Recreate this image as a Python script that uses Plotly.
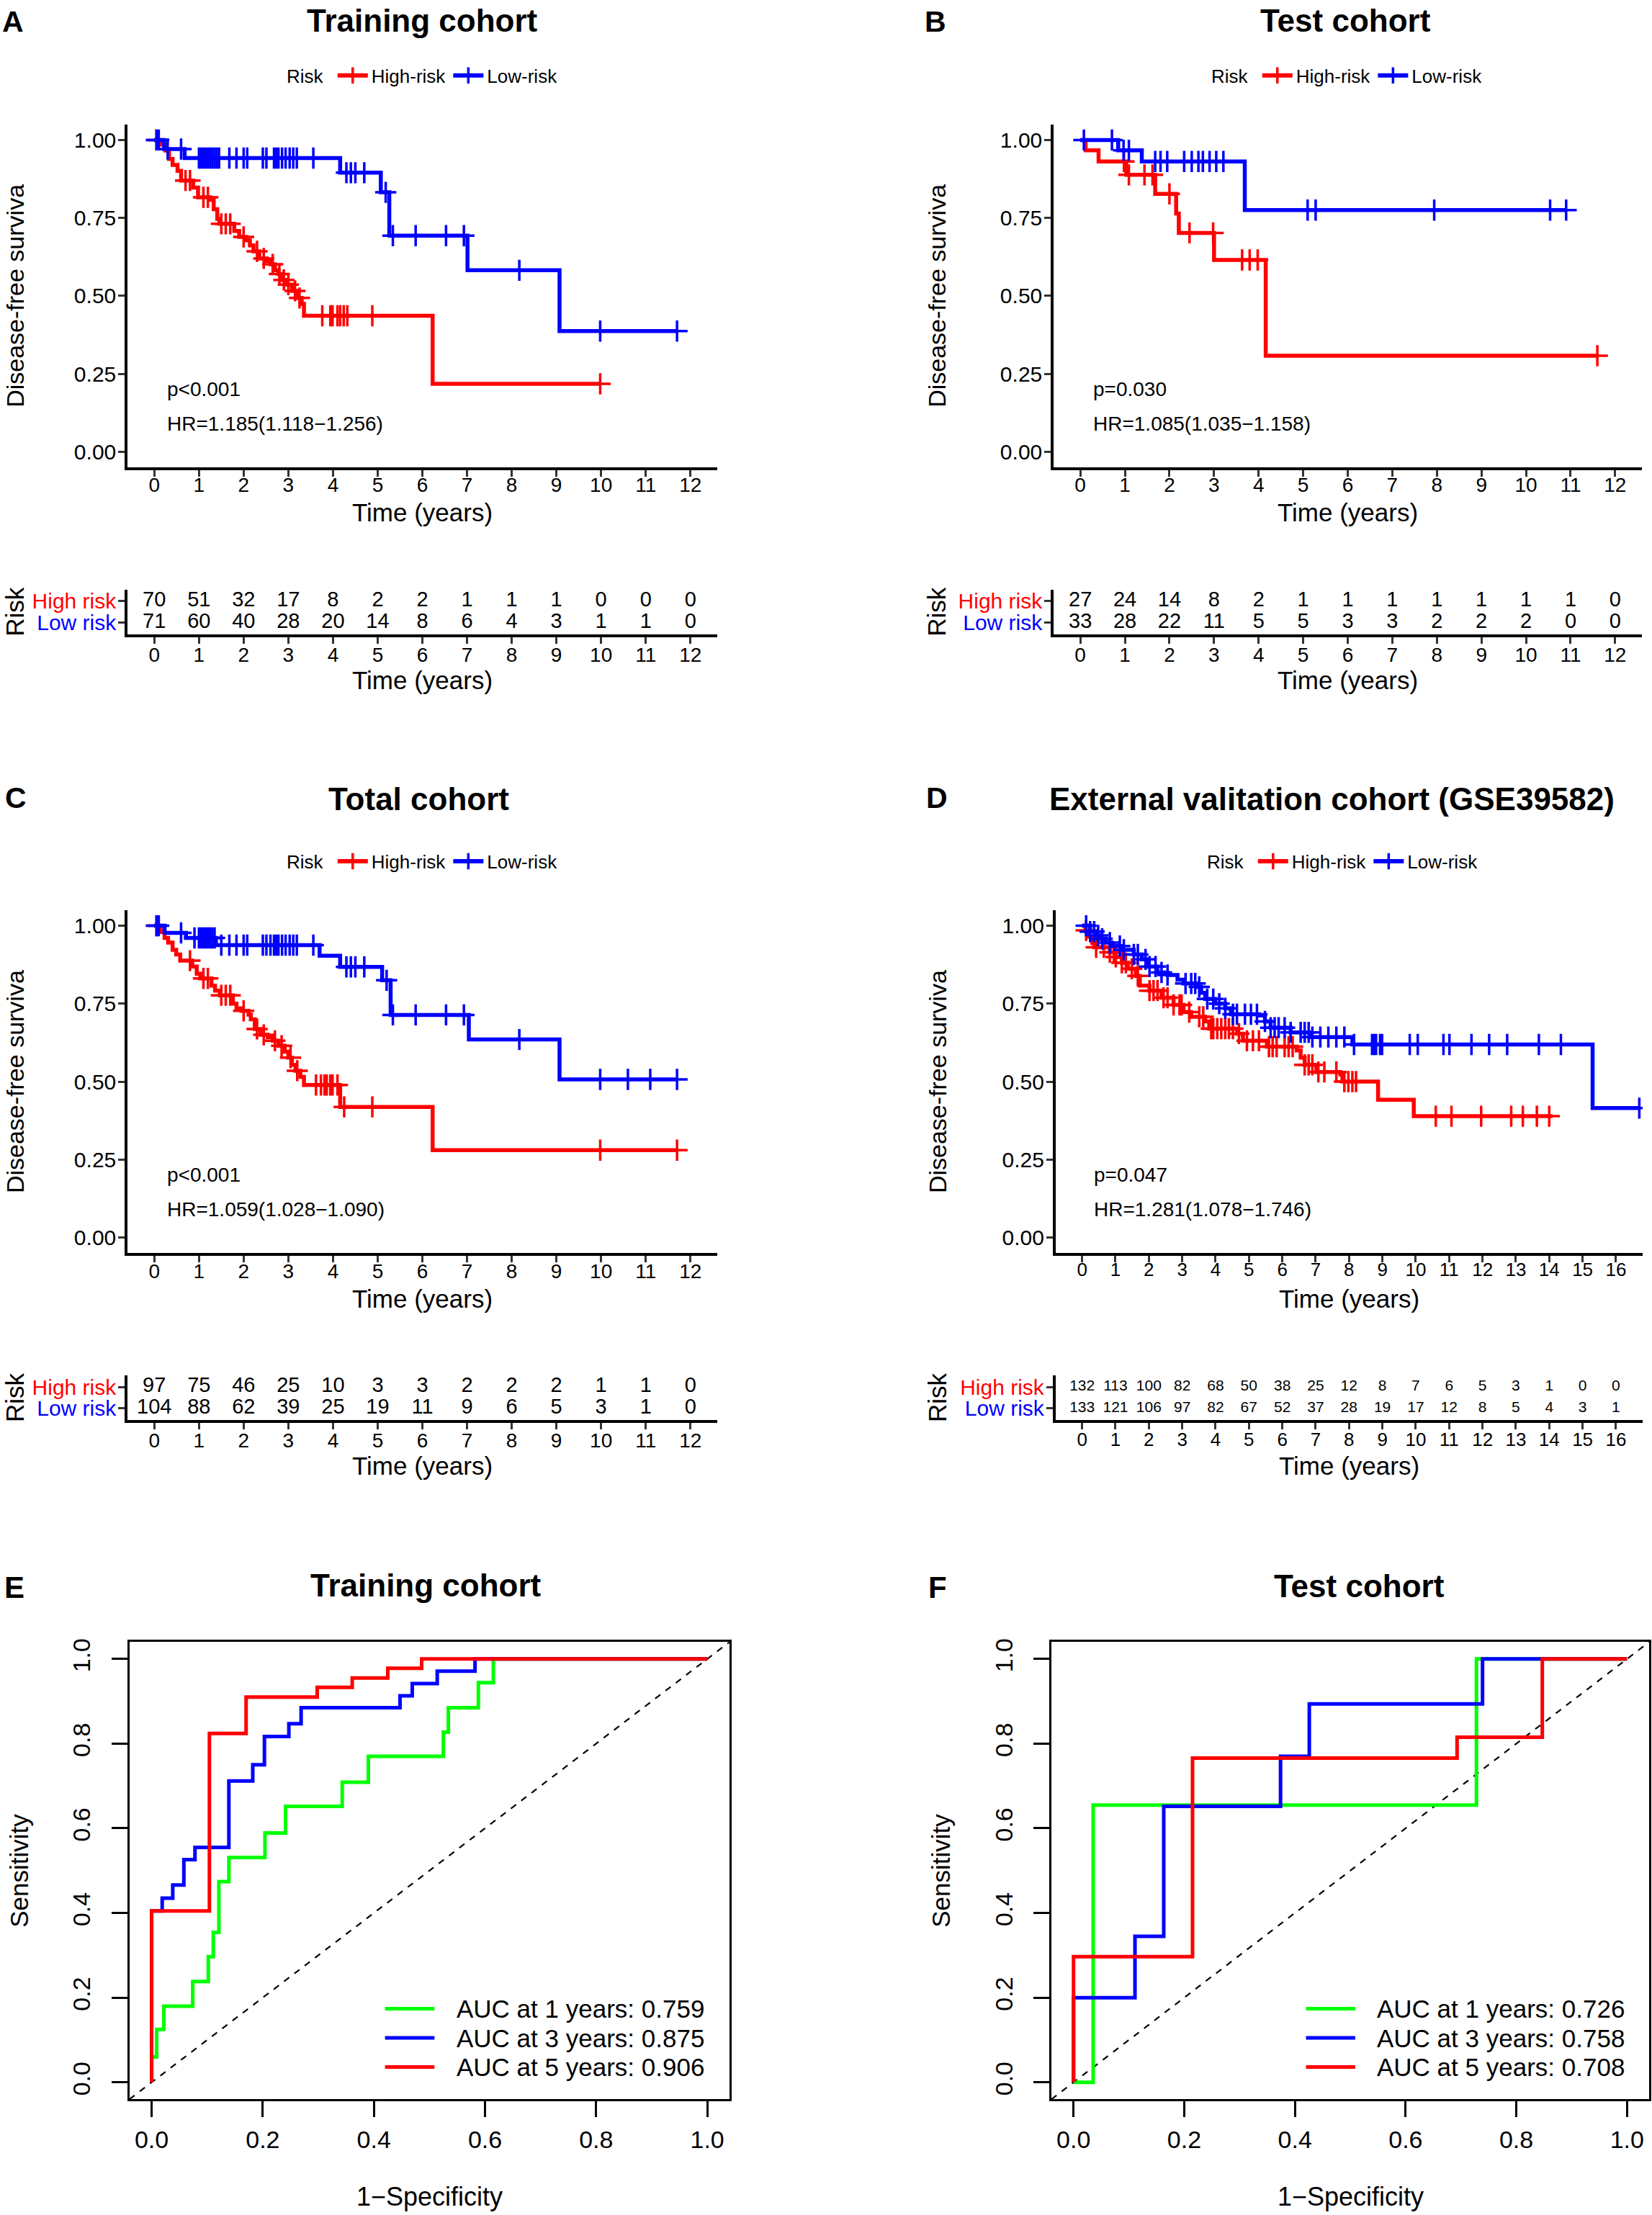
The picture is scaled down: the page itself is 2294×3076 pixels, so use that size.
import plotly.graph_objects as go

W, H = 2294, 3076
FONT = "Liberation Sans, Arial, Helvetica, sans-serif"
RED, BLUE, GREEN = "#FF0000", "#0000FF", "#00FF00"

# ---------------- Kaplan-Meier data (event times / survival after event) ----------------
# Panel A : Training cohort
a_high_t = [0.17, 0.25, 0.33, 0.41, 0.52, 0.60, 0.87, 0.98, 1.25, 1.33, 1.41, 1.46, 1.79, 1.90, 2.06,
            2.14, 2.22, 2.35, 2.52, 2.60, 2.70, 2.78, 2.86, 2.97, 3.08, 3.19, 3.30, 3.35, 6.23]
a_high_s = [0.985, 0.966, 0.939, 0.920, 0.901, 0.870, 0.847, 0.816, 0.808, 0.778, 0.747, 0.731, 0.708,
            0.689, 0.678, 0.662, 0.643, 0.620, 0.612, 0.601, 0.582, 0.570, 0.551, 0.536, 0.516, 0.493,
            0.474, 0.436, 0.218]
a_high_end = 10.0
a_high_cens = [0.05, 0.7, 0.8, 1.1, 1.2, 1.5, 1.6, 1.7, 2.0, 2.3, 2.45, 2.65, 2.8, 2.9, 3.0, 3.15, 3.25,
               3.76, 3.94, 3.99, 4.1, 4.16, 4.24, 4.32, 4.88, 9.98]
a_low_t = [0.22, 0.68, 4.16, 5.07, 5.26, 7.01, 9.07]
a_low_s = [0.971, 0.942, 0.895, 0.832, 0.693, 0.582, 0.387]
a_low_end = 11.7
a_low_cens = [0.05, 0.1, 0.3, 0.6, 1.0, 1.05, 1.1, 1.15, 1.2, 1.25, 1.3, 1.35, 1.4, 1.45, 1.68, 1.84, 2.0,
              2.08, 2.43, 2.51, 2.68, 2.73, 2.78, 2.86, 2.94, 3.03, 3.11, 3.19, 3.56, 4.3, 4.4, 4.5, 4.7,
              5.18, 5.34, 5.85, 6.53, 6.93, 8.17, 9.98, 11.7]

# Panel B : Test cohort
b_high_t = [0.12, 0.41, 1.03, 1.68, 2.15, 2.21, 3.0, 4.16]
b_high_s = [0.967, 0.931, 0.888, 0.827, 0.764, 0.702, 0.615, 0.308]
b_high_end = 11.6
b_high_cens = [0.98, 1.09, 1.44, 1.62, 2.0, 2.45, 2.98, 3.63, 3.8, 3.98, 11.6]
b_low_t = [0.85, 1.38, 3.69]
b_low_s = [0.967, 0.931, 0.775]
b_low_end = 10.9
b_low_cens = [0.08, 0.71, 0.97, 1.09, 1.68, 1.8, 1.95, 2.33, 2.5, 2.65, 2.75, 2.9, 3.05, 3.21, 5.1, 5.28,
              7.94, 10.54, 10.9]

# Panel C : Total cohort
c_high_t = [0.14, 0.23, 0.31, 0.41, 0.49, 0.58, 0.85, 0.95, 1.03, 1.28, 1.36, 1.47, 1.76, 1.84, 1.95,
            2.11, 2.16, 2.25, 2.38, 2.54, 2.65, 2.78, 2.92, 3.0, 3.08, 3.16, 3.27, 3.35, 4.16, 6.23]
c_high_s = [0.98, 0.961, 0.946, 0.923, 0.908, 0.888, 0.869, 0.846, 0.831, 0.808, 0.792, 0.777, 0.75,
            0.735, 0.727, 0.715, 0.70, 0.669, 0.65, 0.643, 0.631, 0.615, 0.596, 0.577, 0.554, 0.535,
            0.515, 0.489, 0.419, 0.28]
c_high_end = 11.7
c_high_cens = [0.05, 0.8, 1.1, 1.2, 1.5, 1.6, 1.7, 2.0, 2.3, 2.45, 2.7, 2.85, 3.05, 3.2, 3.62, 3.73, 3.81,
               3.86, 3.94, 3.99, 4.1, 4.25, 4.88, 9.98, 11.7]
c_low_t = [0.23, 0.71, 1.38, 3.7, 4.16, 5.1, 5.29, 7.04, 9.07]
c_low_s = [0.977, 0.961, 0.938, 0.904, 0.868, 0.825, 0.714, 0.635, 0.507]
c_low_end = 11.7
c_low_cens = [0.05, 0.1, 0.6, 0.9, 1.0, 1.05, 1.1, 1.15, 1.2, 1.25, 1.3, 1.35, 1.5, 1.68, 1.84, 2.0, 2.08,
              2.43, 2.51, 2.6, 2.68, 2.73, 2.78, 2.86, 2.94, 3.03, 3.11, 3.19, 3.56, 4.3, 4.4, 4.5, 4.7,
              5.2, 5.34, 5.85, 6.53, 6.93, 8.17, 9.98, 10.6, 11.1, 11.7]

# Panel D : External validation cohort (GSE39582)
d_high_t = [0.1, 0.2, 0.3, 0.36, 0.83, 1.01, 1.19, 1.37, 1.61, 1.73, 2.02, 2.38, 2.74, 3.04, 3.27, 3.69,
            3.81, 4.64, 4.82, 5.54, 6.43, 6.55, 6.67, 7.02, 7.74, 7.8, 8.87, 9.94]
d_high_s = [0.985, 0.965, 0.945, 0.931, 0.915, 0.900, 0.881, 0.862, 0.839, 0.808, 0.792, 0.769, 0.746,
            0.723, 0.708, 0.693, 0.670, 0.654, 0.631, 0.612, 0.600, 0.577, 0.554, 0.531, 0.523, 0.500,
            0.442, 0.389]
d_high_end = 14.1
d_high_cens = [0.12, 0.42, 0.65, 0.83, 0.95, 1.01, 1.19, 1.31, 1.49, 1.67, 2.02, 2.14, 2.26, 2.44, 2.56,
               2.74, 2.92, 2.98, 3.21, 3.51, 3.63, 3.87, 3.93, 4.05, 4.17, 4.29, 4.4, 4.52, 4.7, 4.94,
               5.12, 5.3, 5.6, 5.71, 5.83, 6.07, 6.19, 6.31, 6.67, 6.79, 6.9, 7.08, 7.26, 7.62, 7.86,
               7.98, 8.1, 8.21, 10.6, 11.07, 11.96, 12.86, 13.21, 13.63, 14.0]
d_low_t = [0.24, 0.42, 0.54, 0.71, 0.89, 1.19, 1.55, 1.79, 1.96, 2.26, 2.56, 2.86, 3.04, 3.45, 3.57, 3.69,
           3.99, 4.29, 4.46, 5.3, 5.48, 5.65, 6.25, 6.85, 8.1, 15.3]
d_low_s = [0.981, 0.969, 0.958, 0.946, 0.935, 0.923, 0.908, 0.892, 0.869, 0.850, 0.842, 0.827, 0.815,
           0.804, 0.785, 0.765, 0.750, 0.735, 0.716, 0.712, 0.693, 0.673, 0.658, 0.643, 0.619, 0.415]
d_low_end = 16.7
d_low_cens = [0.12, 0.24, 0.36, 0.48, 0.6, 0.83, 1.13, 1.25, 1.55, 1.67, 1.9, 2.02, 2.2, 2.38, 2.56, 3.1,
              3.27, 3.39, 3.51, 3.75, 3.93, 4.11, 4.29, 4.52, 4.64, 4.88, 5.06, 5.24, 5.48, 5.65, 5.77,
              5.89, 6.07, 6.25, 6.55, 6.67, 6.79, 6.9, 7.14, 7.38, 7.62, 7.86, 8.15, 8.69, 8.75, 8.81,
              8.93, 8.99, 9.82, 10.06, 10.83, 11.01, 11.67, 12.2, 12.74, 13.69, 14.35, 16.7]

# ---------------- Numbers at risk ----------------
ticks_12 = list(range(0, 13))
ticks_16 = list(range(0, 17))
a_risk_high = [70, 51, 32, 17, 8, 2, 2, 1, 1, 1, 0, 0, 0]
a_risk_low = [71, 60, 40, 28, 20, 14, 8, 6, 4, 3, 1, 1, 0]
b_risk_high = [27, 24, 14, 8, 2, 1, 1, 1, 1, 1, 1, 1, 0]
b_risk_low = [33, 28, 22, 11, 5, 5, 3, 3, 2, 2, 2, 0, 0]
c_risk_high = [97, 75, 46, 25, 10, 3, 3, 2, 2, 2, 1, 1, 0]
c_risk_low = [104, 88, 62, 39, 25, 19, 11, 9, 6, 5, 3, 1, 0]
d_risk_high = [132, 113, 100, 82, 68, 50, 38, 25, 12, 8, 7, 6, 5, 3, 1, 0, 0]
d_risk_low = [133, 121, 106, 97, 82, 67, 52, 37, 28, 19, 17, 12, 8, 5, 4, 3, 1]

km_titles = ["Training cohort", "Test cohort", "Total cohort", "External valitation cohort (GSE39582)"]
km_pvals = ["p<0.001", "p=0.030", "p<0.001", "p=0.047"]
km_hrs = ["HR=1.185(1.118\u22121.256)", "HR=1.085(1.035\u22121.158)",
          "HR=1.059(1.028\u22121.090)", "HR=1.281(1.078\u22121.746)"]

# ---------------- ROC data (step vertices) ----------------
e_1y_fpr = [0, 0, 0.009, 0.022, 0.074, 0.102, 0.111, 0.121, 0.139, 0.204, 0.241, 0.343, 0.390, 0.525, 0.534, 0.588, 0.615, 1.0]
e_1y_tpr = [0, 0.06, 0.125, 0.18, 0.238, 0.297, 0.354, 0.474, 0.531, 0.589, 0.652, 0.709, 0.770, 0.827, 0.885, 0.944, 1.0, 1.0]
e_3y_fpr = [0, 0, 0.019, 0.038, 0.058, 0.078, 0.139, 0.182, 0.203, 0.247, 0.269, 0.447, 0.469, 0.514, 0.582, 1.0]
e_3y_tpr = [0, 0.405, 0.435, 0.466, 0.526, 0.555, 0.712, 0.75, 0.817, 0.847, 0.885, 0.913, 0.942, 0.971, 1.0, 1.0]
e_5y_fpr = [0, 0, 0.104, 0.170, 0.298, 0.361, 0.425, 0.486, 1.0]
e_5y_tpr = [0, 0.405, 0.824, 0.910, 0.933, 0.955, 0.978, 1.0, 1.0]
f_1y_fpr = [0, 0.0355, 0.728, 1.0]
f_1y_tpr = [0, 0.655, 1.0, 1.0]
f_3y_fpr = [0, 0, 0.111, 0.163, 0.374, 0.426, 0.739, 1.0]
f_3y_tpr = [0, 0.2, 0.345, 0.652, 0.77, 0.894, 1.0, 1.0]
f_5y_fpr = [0, 0, 0.215, 0.693, 0.847, 1.0]
f_5y_tpr = [0, 0.297, 0.766, 0.815, 1.0, 1.0]
e_auc = [0.759, 0.875, 0.906]
f_auc = [0.726, 0.758, 0.708]
roc_years = [1, 3, 5]
roc_ticks = [0.0, 0.2, 0.4, 0.6, 0.8, 1.0]


def px(v):
    return v / W


def py(v):
    return 1 - v / H


fig = go.Figure()
layout = {}
annotations = []
shapes = []


def ann(text, x, y, size, bold=False, angle=0, color="black", xanchor="center", xref="paper", yref="paper"):
    if bold:
        text = "<b>" + text + "</b>"
    annotations.append(dict(text=text, x=x, y=y, xref=xref, yref=yref, showarrow=False,
                            font=dict(size=size, color=color, family=FONT), textangle=angle,
                            xanchor=xanchor, yanchor="middle"))


def step_value(times, surv, t):
    s = 1.0
    for ti, si in zip(times, surv):
        if ti <= t:
            s = si
        else:
            break
    return s


def add_km(xa, ya, ev_t, ev_s, end_t, cens, color):
    xs = [0] + ev_t + [end_t]
    ys = [1.0] + ev_s + [ev_s[-1]]
    fig.add_trace(go.Scatter(x=xs, y=ys, mode="lines", line=dict(color=color, width=5.5, shape="hv"),
                             xaxis=xa, yaxis=ya, showlegend=False, hoverinfo="skip"))
    cy = [step_value(ev_t, ev_s, c) for c in cens]
    fig.add_trace(go.Scatter(x=cens, y=cy, mode="markers",
                             marker=dict(symbol="cross-thin", size=21, color=color, line=dict(color=color, width=3.5)),
                             xaxis=xa, yaxis=ya, showlegend=False, hoverinfo="skip"))


def axis_common(size):
    return dict(showline=True, linecolor="black", linewidth=3.5, ticks="outside", ticklen=9, tickwidth=3,
                tickcolor="#333333", showgrid=False, zeroline=False,
                tickfont=dict(size=size, family=FONT, color="black"))


panels = [
    dict(n=1, x=(177, 996), ky=(168, 645), ry=(815, 877.3), rng=(-0.6, 12.6), ticks=ticks_12, xfs=28, rfs=29,
         high=(a_high_t, a_high_s, a_high_end, a_high_cens), low=(a_low_t, a_low_s, a_low_end, a_low_cens),
         rh=a_risk_high, rl=a_risk_low, title=km_titles[0], tpos=(586, 24), letter="A", lpos=(18, 25),
         leg=(588, 100), ylab_x=21, pv=km_pvals[0], hr=km_hrs[0], px_=0.25),
    dict(n=2, x=(1463, 2280), ky=(168, 645), ry=(815, 877.3), rng=(-0.6, 12.6), ticks=ticks_12, xfs=28, rfs=29,
         high=(b_high_t, b_high_s, b_high_end, b_high_cens), low=(b_low_t, b_low_s, b_low_end, b_low_cens),
         rh=b_risk_high, rl=b_risk_low, title=km_titles[1], tpos=(1868, 24), letter="B", lpos=(1299, 25),
         leg=(1872, 100), ylab_x=1301, pv=km_pvals[1], hr=km_hrs[1], px_=0.25),
    dict(n=3, x=(177, 996), ky=(1261, 1738), ry=(1908, 1970.3), rng=(-0.6, 12.6), ticks=ticks_12, xfs=28, rfs=29,
         high=(c_high_t, c_high_s, c_high_end, c_high_cens), low=(c_low_t, c_low_s, c_low_end, c_low_cens),
         rh=c_risk_high, rl=c_risk_low, title=km_titles[2], tpos=(581, 1106), letter="C", lpos=(22, 1105),
         leg=(588, 1193), ylab_x=21, pv=km_pvals[2], hr=km_hrs[2], px_=0.25),
    dict(n=4, x=(1465.6, 2281), ky=(1261, 1738), ry=(1908, 1970.3), rng=(-0.8, 16.8), ticks=ticks_16, xfs=26, rfs=21,
         high=(d_high_t, d_high_s, d_high_end, d_high_cens), low=(d_low_t, d_low_s, d_low_end, d_low_cens),
         rh=d_risk_high, rl=d_risk_low, title=km_titles[3], tpos=(1850, 1106), letter="D", lpos=(1301, 1105),
         leg=(1866, 1193), ylab_x=1302, pv=km_pvals[3], hr=km_hrs[3], px_=0.3),
]

for p in panels:
    k = p["n"]
    ia, ib = 2 * k - 1, 2 * k
    xa, ya = (f"x{ia}", f"y{ia}") if ia > 1 else ("x", "y")
    xb, yb = f"x{ib}", f"y{ib}"
    la = "" if ia == 1 else str(ia)
    lb = str(ib)
    add_km(xa, ya, *p["high"], RED)
    add_km(xa, ya, *p["low"], BLUE)
    legname = "legend" if k == 1 else f"legend{k}"
    for name, col in (("High-risk", RED), ("Low-risk", BLUE)):
        fig.add_trace(go.Scatter(x=[None], y=[None], mode="lines+markers", name=name, legend=legname,
                                 line=dict(color=col, width=6),
                                 marker=dict(symbol="cross-thin", size=16, color=col, line=dict(color=col, width=3.5)),
                                 xaxis=xa, yaxis=ya, hoverinfo="skip"))
    layout[legname] = dict(orientation="h", x=px(p["leg"][0]), y=py(p["leg"][1]), xanchor="center",
                           yanchor="middle", bgcolor="rgba(0,0,0,0)",
                           font=dict(size=26, family=FONT, color="black"),
                           title=dict(text="Risk ", font=dict(size=26, family=FONT, color="black"), side="left"),
                           itemwidth=42, tracegroupgap=0)
    xdom = [px(p["x"][0]), px(p["x"][1])]
    ax = axis_common(p["xfs"])
    ax.update(domain=xdom, range=list(p["rng"]), tickvals=p["ticks"], anchor=ya, ticklabelstandoff=-12)
    layout["xaxis" + la] = ax
    ay = axis_common(30)
    ay.update(domain=[py(p["ky"][1]), py(p["ky"][0])], range=[-0.05, 1.05], tickvals=[0, 0.25, 0.5, 0.75, 1.0],
              ticktext=["0.00", "0.25", "0.50", "0.75", "1.00"], anchor=xa, ticklabelstandoff=-3)
    layout["yaxis" + la] = ay
    # risk table
    fig.add_trace(go.Scatter(x=p["ticks"], y=[2] * len(p["ticks"]), mode="text", text=[str(v) for v in p["rh"]],
                             textfont=dict(size=p["rfs"], family=FONT, color="black"), xaxis=xb, yaxis=yb,
                             showlegend=False, hoverinfo="skip"))
    fig.add_trace(go.Scatter(x=p["ticks"], y=[1] * len(p["ticks"]), mode="text", text=[str(v) for v in p["rl"]],
                             textfont=dict(size=p["rfs"], family=FONT, color="black"), xaxis=xb, yaxis=yb,
                             showlegend=False, hoverinfo="skip"))
    bx = axis_common(p["xfs"])
    bx.update(domain=xdom, range=list(p["rng"]), tickvals=p["ticks"], anchor=yb, ticklabelstandoff=-8)
    layout["xaxis" + lb] = bx
    by = axis_common(30)
    by.update(domain=[py(p["ry"][1]), py(p["ry"][0])], range=[0.45, 2.55], tickvals=[1, 2],
              ticktext=['<span style="color:#0000FF">Low risk</span>', '<span style="color:#FF0000">High risk</span>'],
              anchor=xb, ticklabelstandoff=-3)
    layout["yaxis" + lb] = by
    # texts
    cx = (p["x"][0] + p["x"][1]) / 2
    ann(p["title"], px(p["tpos"][0]), py(p["tpos"][1]), 44, bold=True)
    ann(p["letter"], px(p["lpos"][0]), py(p["lpos"][1]), 41, bold=True)
    ann("Disease-free surviva", px(p["ylab_x"]), py((p["ky"][0] + p["ky"][1]) / 2), 34, angle=-90)
    ann("Risk", px(p["ylab_x"]), py((p["ry"][0] + p["ry"][1]) / 2), 35, angle=-90)
    ann("Time (years)", px(cx), py(p["ky"][1] + 63), 35)
    ann("Time (years)", px(cx), py(p["ry"][1] + 64), 35)
    ann(p["pv"], p["px_"], 0.2, 28, xanchor="left", xref=xa, yref=ya)
    ann(p["hr"], p["px_"], 0.09, 28, xanchor="left", xref=xa, yref=ya)

# ---------------- ROC panels ----------------
roc_panels = [
    dict(n=9, x=(179.7, 1013), y=(2279, 2915), curves=[(e_1y_fpr, e_1y_tpr, GREEN), (e_3y_fpr, e_3y_tpr, BLUE),
                                                       (e_5y_fpr, e_5y_tpr, RED)], auc=e_auc,
         title="Training cohort", tpos=(591, 2200), letter="E", lpos=(20, 2203), ylab_x=27),
    dict(n=10, x=(1460, 2290), y=(2279, 2915), curves=[(f_1y_fpr, f_1y_tpr, GREEN), (f_3y_fpr, f_3y_tpr, BLUE),
                                                       (f_5y_fpr, f_5y_tpr, RED)], auc=f_auc,
         title="Test cohort", tpos=(1887, 2201), letter="F", lpos=(1302, 2203), ylab_x=1307),
]
legend_rows = [0.174, 0.105, 0.036]
for p in roc_panels:
    k = p["n"]
    xa, ya = f"x{k}", f"y{k}"
    fig.add_trace(go.Scatter(x=[-0.04, 1.04], y=[-0.04, 1.04], mode="lines",
                             line=dict(color="black", width=2.2, dash="dash"), xaxis=xa, yaxis=ya,
                             showlegend=False, hoverinfo="skip"))
    for fx, ty, col in p["curves"]:
        fig.add_trace(go.Scatter(x=fx, y=ty, mode="lines", line=dict(color=col, width=5, shape="hv"),
                                 xaxis=xa, yaxis=ya, showlegend=False, hoverinfo="skip"))
    common = dict(showline=True, mirror=True, linecolor="black", linewidth=2.5, ticks="outside", ticklen=22,
                  tickwidth=2.5, tickcolor="black", showgrid=False, zeroline=False, range=[-0.04, 1.04],
                  tickvals=roc_ticks, ticktext=[f"{v:.1f}" for v in roc_ticks],
                  tickfont=dict(size=34, family=FONT, color="black"))
    xax = dict(common)
    xax.update(domain=[px(p["x"][0]), px(p["x"][1])], anchor=ya, ticklabelstandoff=2)
    yax = dict(common)
    yax.update(domain=[py(p["y"][1]), py(p["y"][0])], anchor=xa, tickangle=-90, ticklabelstandoff=16)
    layout[f"xaxis{k}"] = xax
    layout[f"yaxis{k}"] = yax
    for (fx, ty, col), row, yr, auc in zip(p["curves"], legend_rows, roc_years, p["auc"]):
        shapes.append(dict(type="line", xref=xa, yref=ya, x0=0.42, x1=0.509, y0=row, y1=row,
                           line=dict(color=col, width=5)))
        ann(f"AUC at {yr} years: {auc:.3f}", 0.546, row, 35, xanchor="left", xref=xa, yref=ya)
    cx = (p["x"][0] + p["x"][1]) / 2
    ann(p["title"], px(p["tpos"][0]), py(p["tpos"][1]), 44, bold=True)
    ann(p["letter"], px(p["lpos"][0]), py(p["lpos"][1]), 42, bold=True)
    ann("Sensitivity", px(p["ylab_x"]), py((p["y"][0] + p["y"][1]) / 2), 35, angle=-90)
    ann("1\u2212Specificity", px(cx), py(3050), 36)

layout.update(width=W, height=H, margin=dict(l=0, r=0, t=0, b=0), plot_bgcolor="white", paper_bgcolor="white",
              font=dict(family=FONT, color="black"), annotations=annotations, shapes=shapes, showlegend=True)
fig.update_layout(**layout)
fig.write_html("out.html", config={"displayModeBar": False},
               post_script="document.body.style.margin='0px';")
